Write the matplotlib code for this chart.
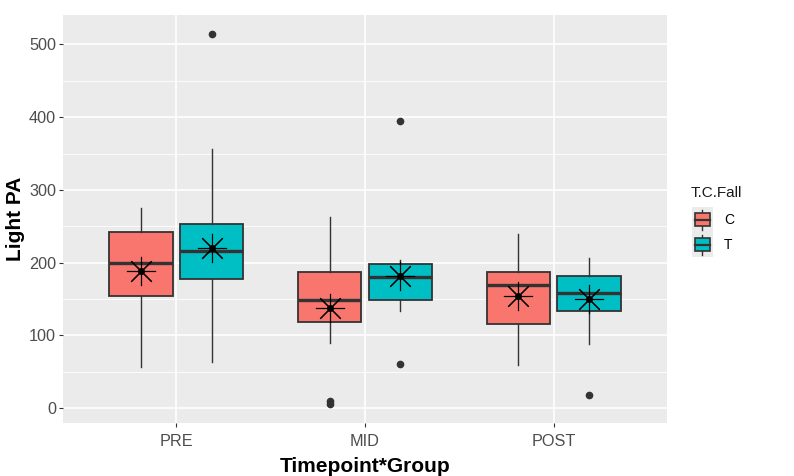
import matplotlib.pyplot as plt
from matplotlib.legend_handler import HandlerBase
from matplotlib.patches import Rectangle, Patch
from matplotlib.lines import Line2D
from matplotlib.ticker import MultipleLocator

plt.rcParams['font.family'] = ['Liberation Sans', 'DejaVu Sans']

timepoints = ['PRE', 'MID', 'POST']
groups = ['C', 'T']
colors = {'C': '#F8766D', 'T': '#00BFC4'}

# box statistics
c_lo = [57, 89, 59]
c_q1 = [154, 119, 115]
c_med = [200, 148, 169]
c_q3 = [242, 187, 187]
c_hi = [275, 263, 239]
c_mean = [189, 137, 154]
c_out = [[], [6, 10], []]

t_lo = [63, 134, 88]
t_q1 = [177, 149, 134]
t_med = [216, 180, 158]
t_q3 = [253, 198, 181]
t_hi = [356, 204, 207]
t_mean = [220, 181, 150]
t_out = [[514], [395, 61], [18]]

data = {
    'C': (c_lo, c_q1, c_med, c_q3, c_hi, c_mean, c_out),
    'T': (t_lo, t_q1, t_med, t_q3, t_hi, t_mean, t_out),
}

edge = '#333333'
fig = plt.figure(figsize=(7.94, 4.76), dpi=100)
ax = fig.add_axes([63 / 794, 1 - 423 / 476, 604 / 794, 408 / 476])
ax.set_facecolor('#EBEBEB')

dodge = 0.1875
width = 0.3375
for k, g in enumerate(groups):
    lo, q1, med, q3, hi, mean, out = data[g]
    stats = []
    for i in range(len(timepoints)):
        stats.append(dict(whislo=lo[i], q1=q1[i], med=med[i], q3=q3[i],
                          whishi=hi[i], mean=mean[i], fliers=out[i]))
    pos = [i + 1 + (k * 2 - 1) * dodge for i in range(len(timepoints))]
    ax.bxp(stats, positions=pos, widths=width, patch_artist=True,
           showcaps=False, showmeans=False, manage_ticks=False,
           boxprops=dict(facecolor=colors[g], edgecolor=edge, linewidth=1.3),
           medianprops=dict(color=edge, linewidth=2.4, solid_capstyle='butt'),
           whiskerprops=dict(color=edge, linewidth=1.0),
           flierprops=dict(marker='o', markerfacecolor=edge, markeredgecolor=edge,
                           markersize=4.5))
    # mean markers (asterisk with a dot)
    ax.plot(pos, mean, linestyle='none', marker=(8, 2, 0), markersize=21,
            markeredgewidth=0.8, color='black', zorder=5)
    ax.plot(pos, mean, linestyle='none', marker='o', markersize=4,
            color='black', zorder=6)

ax.set_xlim(0.4, 3.6)
ax.set_ylim(-20.5, 540.5)
ax.set_xticks(range(1, len(timepoints) + 1))
ax.set_xticklabels(timepoints)
ax.yaxis.set_major_locator(MultipleLocator(100))
ax.yaxis.set_minor_locator(MultipleLocator(50))
ax.grid(which='major', color='white', linewidth=1.2)
ax.grid(which='minor', axis='y', color='white', linewidth=0.6)
ax.set_axisbelow(True)
for s in ax.spines.values():
    s.set_visible(False)
ax.tick_params(axis='both', which='major', length=3, color='#333333',
               labelsize=11.7, labelcolor='#4D4D4D', pad=2)
ax.tick_params(axis='x', which='major', pad=5)
ax.tick_params(axis='y', which='minor', length=0)

ax.set_xlabel('Timepoint*Group', fontsize=15, fontweight='bold', labelpad=6)
ax.set_ylabel('Light PA', fontsize=15, fontweight='bold', labelpad=3)


class BoxKey(HandlerBase):
    def create_artists(self, legend, orig, xd, yd, w, h, fontsize, trans):
        x0, y0 = -xd, -yd
        fc = orig.get_facecolor()
        bg = Rectangle((x0, y0), w, h, facecolor='#EBEBEB', edgecolor='none',
                       transform=trans)
        wl = Line2D([x0 + w / 2] * 2, [y0 + 0.1 * h, y0 + 0.9 * h],
                    color=edge, linewidth=1.0, transform=trans)
        box = Rectangle((x0 + 0.125 * w, y0 + 0.25 * h), 0.75 * w, 0.5 * h,
                        facecolor=fc, edgecolor=edge, linewidth=1.2,
                        transform=trans)
        md = Line2D([x0 + 0.125 * w, x0 + 0.875 * w], [y0 + h / 2] * 2,
                    color=edge, linewidth=1.6, transform=trans)
        return [bg, wl, box, md]


fig.text(691 / 794, 1 - 186 / 476, 'T.C.Fall', fontsize=11, color='#1A1A1A',
         ha='left', va='top')
handles = [Patch(facecolor=colors[g]) for g in groups]
leg = fig.legend(handles, groups, loc='upper left',
                 bbox_to_anchor=(692 / 794, 1 - 207 / 476), frameon=False,
                 fontsize=10, handlelength=1.5,
                 handleheight=2.4, handletextpad=0.8, labelspacing=0,
                 borderpad=0, borderaxespad=0,
                 handler_map={Patch: BoxKey()})

fig.savefig('out.png', dpi=100)
